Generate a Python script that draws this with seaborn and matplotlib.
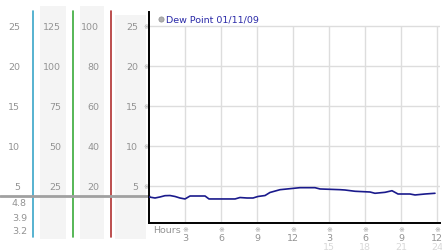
import matplotlib
matplotlib.use("Agg")
import matplotlib.pyplot as plt
import matplotlib.transforms as mtrans
import seaborn as sns
import pandas as pd

# ---- data ----
hours = [0, 0.5, 0.92, 1.33, 1.75, 2.17, 2.58, 3.0, 3.42, 4.67, 5.0, 7.17, 7.58, 8.17,
         8.67, 9.08, 9.67, 10.08, 10.92, 12.58, 13.83, 14.25, 15.92, 16.33, 17.17,
         18.42, 18.83, 19.67, 20.25, 20.75, 21.75, 22.17, 23.0, 23.83]
dew_point = [3.63, 3.5, 3.63, 3.79, 3.81, 3.69, 3.5, 3.38, 3.75, 3.75, 3.38, 3.38, 3.56, 3.5,
             3.5, 3.69, 3.81, 4.19, 4.54, 4.79, 4.79, 4.63, 4.54, 4.5, 4.34,
             4.25, 4.09, 4.21, 4.41, 4.0, 4.0, 3.88, 4.0, 4.09]
y_ticks = [25, 20, 15, 10, 5]
scale1 = ["25", "20", "15", "10", "5"]
scale2 = ["125", "100", "75", "50", "25"]
scale3 = ["100", "80", "60", "40", "20"]
scale4 = ["25", "20", "15", "10", "5"]
stats = ["4.8", "3.9", "3.2"]
x_ticks = [3, 6, 9, 12, 15, 18, 21, 24]
x_labels1 = ["3", "6", "9", "12", "3", "6", "9", "12"]
x_labels2 = ["", "", "", "", "15", "18", "21", "24"]
legend_label = "Dew Point 01/11/09"

sns.set_style("white")
plt.rcParams['font.family'] = ['DejaVu Sans']

W, H = 442, 253
fig = plt.figure(figsize=(W / 100, H / 100), dpi=100)
fig.patch.set_facecolor("white")

# background overlay in pixel coordinates
bg = fig.add_axes([0, 0, 1, 1], zorder=0)
bg.set_xlim(0, W)
bg.set_ylim(H, 0)
bg.axis("off")

# main axes
ax = fig.add_axes([149 / W, 1 - 224 / H, (440 - 149) / W, (224 - 13) / H], zorder=1)
ax.set_facecolor("none")
ax.set_xlim(0, 24.25)
ax.set_ylim(0.375, 26.75)

# bands
for x0, x1, y0 in [(40, 66, 7), (80, 104, 7), (115, 146, 16)]:
    bg.fill_between([x0, x1], y0, 240, color="#f4f4f4", lw=0)
# colored scale lines
for xp, c in [(33, "#3aa6c8"), (73, "#3aaa3a"), (111, "#b03030")]:
    bg.plot([xp, xp], [12, 238], color=c, lw=1.2)
# gray reference line
bg.plot([0, 149], [197, 197], color="#a0a0a0", lw=2)

# grid
ax.hlines(y_ticks, 0, 24.25, color="#dddddd", lw=1, zorder=0)
ax.vlines(x_ticks, 0.375, 25, color="#dddddd", lw=1, zorder=0)

df = pd.DataFrame({"hour": hours, "dew": dew_point})
sns.lineplot(data=df, x="hour", y="dew", ax=ax, color="#1a1a8c", lw=1.2, zorder=3)

for s in ["top", "right"]:
    ax.spines[s].set_visible(False)
ax.spines["left"].set_color("black")
ax.spines["left"].set_linewidth(1.4)
ax.spines["bottom"].set_color("black")
ax.spines["bottom"].set_linewidth(1.4)
ax.set_xticks([])
ax.set_yticks([])
ax.set_xlabel("")
ax.set_ylabel("")

tc = "#939393"
fs = 6.8
ytr = mtrans.blended_transform_factory(bg.transData, ax.transData)
for labels, xr in [(scale1, 20), (scale2, 61), (scale3, 99), (scale4, 138)]:
    for v, lab in zip(y_ticks, labels):
        bg.text(xr, v, lab, transform=ytr, ha="right", va="center", fontsize=fs, color=tc)
for v in y_ticks:
    bg.text(146, v, "※", transform=ytr, ha="center", va="center", fontsize=5, color="#a0a0a0")
for yp, lab in zip([204, 219, 232], stats):
    bg.text(27, yp, lab, ha="right", va="center", fontsize=fs, color=tc)

xtr = mtrans.blended_transform_factory(ax.transData, bg.transData)
for xv, l1, l2 in zip(x_ticks, x_labels1, x_labels2):
    bg.text(xv, 230, "※", transform=xtr, ha="center", va="center", fontsize=5, color="#a0a0a0")
    bg.text(xv, 238.5, l1, transform=xtr, ha="center", va="center", fontsize=fs, color=tc)
    if l2:
        bg.text(xv, 248, l2, transform=xtr, ha="center", va="center", fontsize=fs, color="#d8d8d8")
bg.text(153, 231, "Hours", ha="left", va="center", fontsize=fs, color=tc)

# legend
bg.scatter([161], [20], s=14, color="#b0b0b0", edgecolor="#909090", lw=0.5, zorder=5)
bg.text(166, 20, legend_label, ha="left", va="center", fontsize=fs, color="#2a2aa8")

fig.savefig("out.png", dpi=100)
